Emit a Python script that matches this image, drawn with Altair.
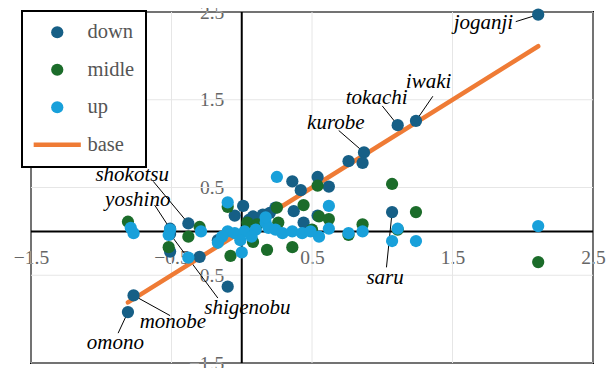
import altair as alt
import pandas as pd

# ---- data ----
down_x = [2.11, 1.24, 1.11, 0.87, 0.86, 0.76, 0.62, 0.54, 0.36, 0.42, 1.07, 0.44, 0.54, 0.37,
          0.01, -0.05, 0.05, 0.08, 0.15, 0.20, 0.24, -0.17, -0.10, -0.30, -0.38, -0.51, -0.51,
          -0.77, -0.81, -0.51]
down_y = [2.47, 1.26, 1.21, 0.90, 0.78, 0.80, 0.51, 0.62, 0.57, 0.47, 0.22, 0.10, 0.18, 0.23,
          0.29, 0.18, 0.13, 0.17, 0.19, 0.21, 0.27, -0.10, -0.63, -0.29, 0.09, 0.03, -0.03,
          -0.73, -0.92, -0.23]
midle_x = [2.11, 1.07, 1.24, 0.54, 0.44, 0.55, 0.62, 0.86, 0.76, 1.11, 0.36, 0.18, 0.08,
           -0.08, -0.10, 0.04, 0.11, 0.26, 0.25, -0.81, -0.52, -0.38, -0.30, 0.50]
midle_y = [-0.35, 0.54, 0.22, 0.52, 0.30, 0.17, 0.14, 0.08, -0.04, 0.02, -0.18, -0.21, -0.12,
           -0.28, 0.28, 0.10, 0.08, 0.10, 0.27, 0.11, -0.18, -0.06, 0.05, 0.02]
up_x = [2.11, 1.11, 1.07, 1.24, 0.86, 0.76, 0.55, 0.62, 0.62, 0.25, -0.10, -0.10, -0.05, 0.02,
        0.10, 0.17, 0.19, 0.24, 0.29, 0.36, 0.43, -0.01, 0.07, 0.00, -0.14, -0.17, -0.29,
        -0.38, -0.51, -0.52, -0.79, -0.77, 0.49, 0.17]
up_y = [0.06, 0.03, -0.11, -0.11, 0.00, -0.02, -0.06, 0.03, 0.29, 0.62, 0.33, 0.00, -0.02, 0.00,
        0.02, 0.10, 0.04, 0.02, -0.02, 0.00, -0.02, -0.10, -0.06, -0.24, -0.06, -0.13, 0.00,
        -0.30, 0.02, -0.04, 0.04, -0.02, 0.00, 0.16]
base_x = [-0.81, 2.11]
base_y = [-0.81, 2.11]

label_names = ["joganji", "iwaki", "tokachi", "kurobe", "shokotsu", "yoshino",
               "shigenobu", "monobe", "omono", "saru"]
label_px = [2.11, 1.24, 1.11, 0.87, -0.38, -0.51, -0.51, -0.77, -0.81, 1.07]
label_py = [2.47, 1.26, 1.21, 0.90, 0.09, 0.03, -0.03, -0.73, -0.92, 0.22]
label_tx = [1.72, 1.33, 0.96, 0.67, -0.78, -0.74, 0.04, -0.49, -0.90, 1.02]
label_ty = [2.37, 1.70, 1.52, 1.24, 0.645, 0.36, -0.87, -1.03, -1.27, -0.53]
label_lx = [1.95, 1.36, 1.00, 0.69, -0.63, -0.62, -0.17, -0.51, -0.88, 1.03]
label_ly = [2.39, 1.54, 1.43, 1.15, 0.57, 0.30, -0.76, -0.96, -1.16, -0.41]

tick_values = [-1.5, -0.5, 0.5, 1.5, 2.5]
groups = ["down", "midle", "up", "base"]
colors = ["#165f86", "#1b6c2a", "#18a0da", "#ef7b35"]

# ---- tables ----
pts = pd.concat([
    pd.DataFrame({"x": down_x, "y": down_y, "group": "down"}),
    pd.DataFrame({"x": midle_x, "y": midle_y, "group": "midle"}),
    pd.DataFrame({"x": up_x, "y": up_y, "group": "up"}),
], ignore_index=True)
base = pd.DataFrame({"x": base_x, "y": base_y})
labels = pd.DataFrame({"name": label_names, "px": label_px, "py": label_py,
                       "tx": label_tx, "ty": label_ty, "lx": label_lx, "ly": label_ly})
zero = pd.DataFrame({"v": [0.0]})
grid = pd.DataFrame({"v": tick_values})

W, H = 562, 351
DOM = [-1.5, 2.5]
font = "'Liberation Serif', 'Times New Roman', Times, serif"

xscale = alt.Scale(domain=DOM, nice=False, zero=False)
yscale = alt.Scale(domain=DOM, nice=False, zero=False)
common_axis = dict(values=tick_values, format=".1f", domain=False, ticks=False, tickSize=0,
                   grid=False, labelFont=font, labelFontSize=19.5, labelColor="#666666",
                   title=None, labelOverlap=False, labelFlush=False)
xaxis = alt.Axis(orient="bottom", offset=-H * 1.5 / 4, labelPadding=17, **common_axis)
yaxis = alt.Axis(orient="left", offset=-W * 1.5 / 4, labelPadding=18, **common_axis)


def X(f):
    return alt.X(f, type="quantitative", scale=xscale, axis=xaxis)


def Y(f):
    return alt.Y(f, type="quantitative", scale=yscale, axis=yaxis)


gx = alt.Chart(grid).mark_rule(color="#e6e6e6", strokeWidth=1).encode(x=X("v"))
gy = alt.Chart(grid).mark_rule(color="#e6e6e6", strokeWidth=1).encode(y=Y("v"))
zx = alt.Chart(zero).mark_rule(color="black", strokeWidth=2).encode(x=X("v"))
zy = alt.Chart(zero).mark_rule(color="black", strokeWidth=2).encode(y=Y("v"))

leaders = alt.Chart(labels).mark_rule(color="black", strokeWidth=1).encode(
    x=X("lx"), y=Y("ly"), x2="px:Q", y2="py:Q")

baseline = alt.Chart(base).mark_line(color=colors[3], strokeWidth=4.5, strokeCap="round").encode(
    x=X("x"), y=Y("y"))

line_symbol = "M-3.85,-0.36L3.85,-0.36L3.85,0.36L-3.85,0.36Z"
legend = alt.Legend(title=None, orient="none", legendX=-9, legendY=-1,
                    direction="vertical", strokeColor="black",
                    padding=11, rowPadding=16.5, symbolSize=150,
                    symbolStrokeWidth=0, labelFont=font, labelFontSize=20.5,
                    labelColor="#555555", labelOffset=20, symbolOffset=14,
                    fillColor="white")
points = alt.Chart(pts).mark_point(filled=True, size=150, opacity=1, clip=False).encode(
    x=X("x"), y=Y("y"),
    color=alt.Color("group:N", scale=alt.Scale(domain=groups, range=colors), legend=legend),
    shape=alt.Shape("group:N", scale=alt.Scale(domain=groups,
                                               range=["circle", "circle", "circle", line_symbol]),
                    legend=legend),
)

texts = alt.Chart(labels).mark_text(font=font, fontStyle="italic", fontSize=21,
                                    color="black", align="center", baseline="middle").encode(
    x=X("tx"), y=Y("ty"), text="name:N")

chart = alt.layer(gx, gy, zx, zy, leaders, baseline, points, texts).properties(
    width=W, height=H,
    autosize=alt.AutoSizeParams(type="none"),
    padding={"left": 23, "top": 4, "right": 13, "bottom": 5},
).configure_view(stroke="black", strokeWidth=2).configure_legend(strokeWidth=2)

chart.save("out.html", embed_options={"renderer": "svg", "actions": False})
